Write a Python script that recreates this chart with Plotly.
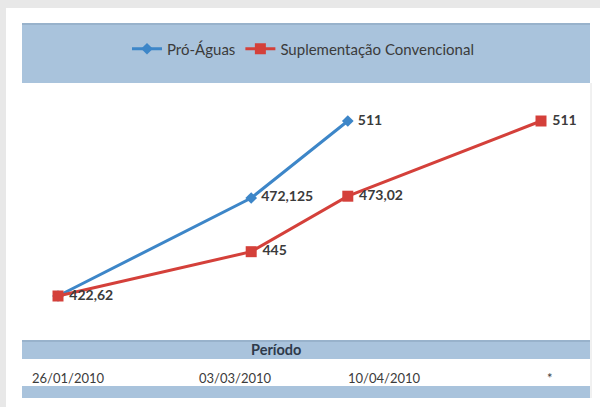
import plotly.graph_objects as go

# ---- data ----
x_pos = [0, 2, 3, 5]
pro_aguas = [422.62, 472.125, 511]
suplementacao = [422.62, 445, 473.02, 511]
series_names = ["Pró-Águas", "Suplementação Convencional"]
period_title = "Período"
period_labels = ["26/01/2010", "03/03/2010", "10/04/2010", "*"]

# ---- styling / layout ----
W, H = 600, 407
BAND = "#a9c3dc"
BLUE = "#3d86c8"
RED = "#d4403a"
TXT = "#3b3b3b"
period_label_px = [30, 197, 346, 545]   # left edges of period labels (pixels)


def fmt(v):
    s = ("%g" % v)
    return "\u00a0" + s.replace(".", ",")


def py(p):  # pixel y -> paper y
    return 1 - p / H


def px(p):  # pixel x -> paper x
    return p / W


pro_text = [""] + [fmt(v) for v in pro_aguas[1:]]
sup_text = [fmt(v) for v in suplementacao]

fig = go.Figure()
fig.add_trace(go.Scatter(
    x=x_pos[:len(pro_aguas)], y=pro_aguas, name=series_names[0],
    mode="lines+markers+text", text=pro_text, textposition="middle right",
    line=dict(color=BLUE, width=3),
    marker=dict(symbol="diamond", size=9, color=BLUE),
    textfont=dict(family="Lato", size=14, color=TXT, weight="bold"),
    cliponaxis=False,
))
fig.add_trace(go.Scatter(
    x=x_pos, y=suplementacao, name=series_names[1],
    mode="lines+markers+text", text=sup_text, textposition="middle right",
    line=dict(color=RED, width=3),
    marker=dict(symbol="square", size=11, color=RED),
    textfont=dict(family="Lato", size=14, color=TXT, weight="bold"),
    cliponaxis=False,
))

# axis ranges chosen so the plot fills the panel like the reference
unit_x = (541 - 58) / 5.0
x0 = -58 / unit_x
x1 = x0 + W / unit_x
unit_y = (296 - 121) / (511 - 422.62)
ytop = 511 + 121 / unit_y
ybot = ytop - H / unit_y

shapes = [
    # white slide panel
    dict(type="rect", xref="paper", yref="paper", x0=px(6), x1=px(600), y0=0, y1=py(8),
         fillcolor="white", line=dict(width=0), layer="below"),
    # legend band
    dict(type="rect", xref="paper", yref="paper", x0=px(22), x1=px(590), y0=py(83), y1=py(23),
         fillcolor=BAND, line=dict(width=0), layer="below"),
    dict(type="line", xref="paper", yref="paper", x0=px(22), x1=px(590), y0=py(24), y1=py(24),
         line=dict(color="#93adc6", width=1.5), layer="below"),
    # right faint border
    dict(type="line", xref="paper", yref="paper", x0=px(591), x1=px(591), y0=py(398), y1=py(83),
         line=dict(color="#e2e2e2", width=1), layer="below"),
    # period band
    dict(type="rect", xref="paper", yref="paper", x0=px(22), x1=px(590), y0=py(359), y1=py(340),
         fillcolor=BAND, line=dict(width=0), layer="below"),
    dict(type="line", xref="paper", yref="paper", x0=px(22), x1=px(590), y0=py(341), y1=py(341),
         line=dict(color="#93adc6", width=1.5), layer="below"),
    # bottom band
    dict(type="rect", xref="paper", yref="paper", x0=px(22), x1=px(590), y0=py(398), y1=py(386),
         fillcolor=BAND, line=dict(width=0), layer="below"),
]

annotations = [
    dict(text="<b>" + period_title + "</b>", xref="paper", yref="paper", x=px(276), y=py(349.5),
         showarrow=False, xanchor="center", yanchor="middle",
         font=dict(family="Lato", size=14.5, color="#2e3a4a")),
]
for lab, lx in zip(period_labels, period_label_px):
    annotations.append(dict(text=lab, xref="paper", yref="paper", x=px(lx), y=py(378),
                            showarrow=False, xanchor="left", yanchor="middle",
                            font=dict(family="Lato", size=13, color=TXT)))

fig.update_layout(
    width=W, height=H,
    margin=dict(l=0, r=0, t=0, b=0),
    paper_bgcolor="#e8e8e8", plot_bgcolor="rgba(0,0,0,0)",
    xaxis=dict(range=[x0, x1], visible=False, domain=[0, 1]),
    yaxis=dict(range=[ybot, ytop], visible=False, domain=[0, 1]),
    showlegend=True,
    legend=dict(orientation="h", x=0.505, xanchor="center", y=py(49), yanchor="middle",
                bgcolor="rgba(0,0,0,0)", font=dict(family="Lato", size=15, color=TXT),
                itemwidth=30, tracegroupgap=0),
    shapes=shapes, annotations=annotations,
)

fig.write_html("out.html", config={"displayModeBar": False},
               post_script="document.body.style.margin='0';document.body.style.overflow='hidden';")
